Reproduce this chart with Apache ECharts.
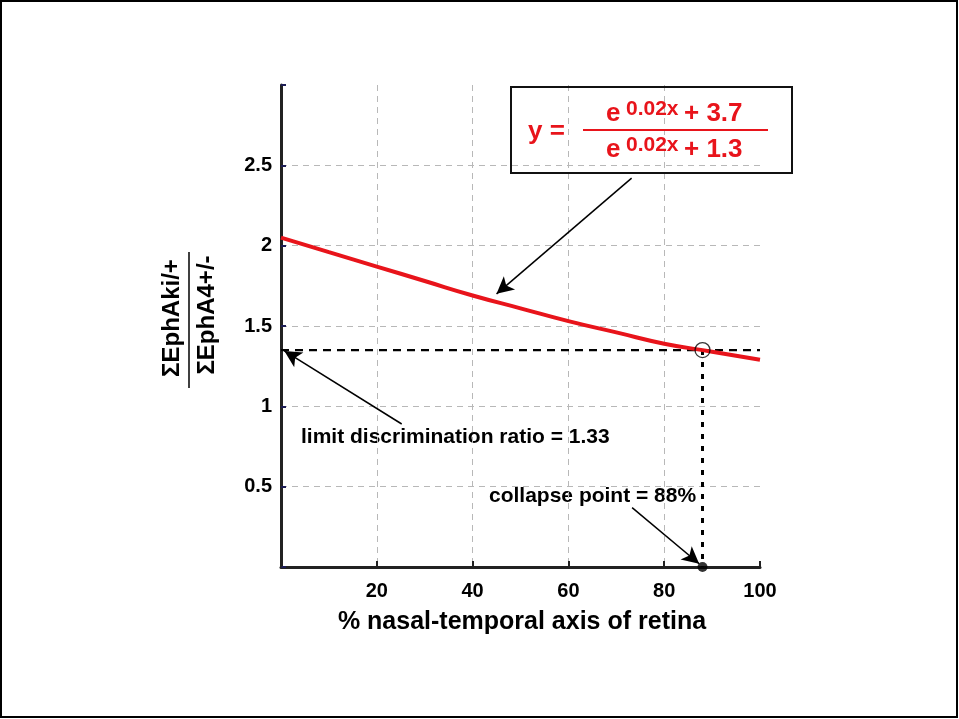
<!DOCTYPE html>
<html>
<head>
<meta charset="utf-8">
<script src="https://cdn.jsdelivr.net/npm/echarts@6/dist/echarts.min.js"></script>
<style>
html,body{margin:0;padding:0;background:#fff;}
#chart{width:959px;height:719px;}
</style>
</head>
<body>
<div id="chart"></div>
<script>
// ---- data ----
const xValues = [0, 10, 20, 30, 40, 50, 60, 70, 80, 90, 100];
const ratioValues = [2.05, 1.96, 1.87, 1.78, 1.69, 1.61, 1.53, 1.46, 1.39, 1.34, 1.29];
const xTickLabels = ['20', '40', '60', '80', '100'];
const yTickLabels = ['0.5', '1', '1.5', '2', '2.5'];
const limitRatio = 1.35;      // drawn level of the limit line
const collapseX = 88;         // collapse point (%)
const xAxisTitle = '% nasal-temporal axis of retina';
const yAxisTop = 'ΣEphAki/+';
const yAxisBottom = 'ΣEphA4+/-';
const limitText = 'limit discrimination ratio = 1.33';
const collapseText = 'collapse point = 88%';

const FONT = '"Liberation Sans", Arial, Helvetica, sans-serif';
const RED = '#e8141b';

const curve = xValues.map((x, i) => [x, ratioValues[i]]);

const chart = echarts.init(document.getElementById('chart'), null, {renderer: 'canvas'});

const arrowStyle = {color: '#000', width: 1.5, type: 'solid'};

function redText(txt, x, y, size) {
  return {type: 'text', x: x, y: y, z: 10,
    style: {text: txt, font: 'bold ' + size + 'px ' + FONT, fill: RED, align: 'left', verticalAlign: 'middle'}};
}

const option = {
  backgroundColor: '#fff',
  animation: false,
  grid: {left: 281, top: 85, width: 479, height: 482, containLabel: false},
  xAxis: {
    type: 'value', min: 0, max: 100, interval: 20,
    axisLine: {show: true, onZero: false, lineStyle: {color: '#222', width: 3}},
    axisTick: {show: true, inside: true, length: 6, lineStyle: {color: '#222', width: 2}},
    axisLabel: {
      margin: 14, color: '#000', fontFamily: FONT, fontWeight: 'bold', fontSize: 20,
      formatter: v => xTickLabels.includes(String(v)) ? String(v) : ''
    },
    splitLine: {show: true, showMinLine: false, showMaxLine: false,
      lineStyle: {color: '#b8b8b8', type: [6, 5], width: 1}}
  },
  yAxis: {
    type: 'value', min: 0, max: 3, interval: 0.5,
    axisLine: {show: true, onZero: false, lineStyle: {color: '#222', width: 3}},
    axisTick: {show: true, inside: true, length: 5, lineStyle: {color: '#1c1c55', width: 2}},
    axisLabel: {
      margin: 9, color: '#000', fontFamily: FONT, fontWeight: 'bold', fontSize: 20,
      formatter: v => yTickLabels.includes(String(v)) ? String(v) : ''
    },
    splitLine: {show: true, showMinLine: false, showMaxLine: false,
      lineStyle: {color: '#b8b8b8', type: [6, 5], width: 1}}
  },
  series: [
    {
      type: 'line', data: [[0, limitRatio], [100, limitRatio]],
      symbol: 'none', silent: true, z: 3,
      lineStyle: {color: '#000', width: 2.2, type: [8, 6]}
    },
    {
      type: 'line', data: [[collapseX, limitRatio], [collapseX, 0]],
      symbol: 'none', silent: true, z: 3,
      lineStyle: {color: '#000', width: 3, type: [5, 7]}
    },
    {
      type: 'line', data: curve, symbol: 'none', smooth: true, z: 4,
      lineStyle: {color: RED, width: 4},
      markLine: {
        silent: true, symbol: ['none', 'arrow'], symbolSize: [13, 17],
        label: {show: false}, lineStyle: arrowStyle,
        data: [
          [{coord: [73.2, 2.42]}, {coord: [45.0, 1.70]}],
          [{coord: [25.2, 0.89]}, {coord: [0.7, 1.345]}],
          [{coord: [73.3, 0.37]}, {coord: [87.3, 0.02]}]
        ]
      }
    },
    {
      type: 'scatter', data: [[collapseX, limitRatio]], symbol: 'circle', symbolSize: 15,
      itemStyle: {color: 'rgba(0,0,0,0)', borderColor: '#000', borderWidth: 1.3}, z: 6, silent: true
    },
    {
      type: 'scatter', data: [[collapseX, 0]], symbol: 'circle', symbolSize: 10, clip: false,
      itemStyle: {color: '#000'}, z: 7, silent: true
    }
  ],
  graphic: [
    // page frame
    {type: 'rect', shape: {x: 1, y: 1, width: 956, height: 716}, style: {fill: 'none', stroke: '#000', lineWidth: 2}, z: 100},
    // x axis title
    {type: 'text', x: 522, y: 622, style: {text: xAxisTitle, font: 'bold 25px ' + FONT, fill: '#000', align: 'center', verticalAlign: 'middle'}},
    // y axis title (fraction, rotated)
    {type: 'text', x: 172, y: 318, rotation: Math.PI / 2, style: {text: yAxisTop, font: 'bold 24px ' + FONT, fill: '#000', align: 'center', verticalAlign: 'middle'}},
    {type: 'text', x: 207, y: 315, rotation: Math.PI / 2, style: {text: yAxisBottom, font: 'bold 24px ' + FONT, fill: '#000', align: 'center', verticalAlign: 'middle'}},
    {type: 'line', shape: {x1: 189, y1: 252, x2: 189, y2: 388}, style: {stroke: '#000', lineWidth: 1.5}},
    // annotations
    {type: 'text', x: 301, y: 437, style: {text: limitText, font: 'bold 21px ' + FONT, fill: '#000', align: 'left', verticalAlign: 'middle'}},
    {type: 'text', x: 489, y: 496, style: {text: collapseText, font: 'bold 21px ' + FONT, fill: '#000', align: 'left', verticalAlign: 'middle'}},
    // formula box
    {type: 'rect', shape: {x: 511, y: 87, width: 281, height: 86}, style: {fill: 'none', stroke: '#111', lineWidth: 2}, z: 10},
    redText('y =', 528, 132, 26),
    {type: 'line', shape: {x1: 583, y1: 130, x2: 768, y2: 130}, style: {stroke: RED, lineWidth: 2}, z: 10},
    redText('e', 606, 114, 26),
    redText('0.02x', 626, 109, 21),
    redText('+ 3.7', 684, 114, 26),
    redText('e', 606, 150, 26),
    redText('0.02x', 626, 145, 21),
    redText('+ 1.3', 684, 150, 26)
  ]
};
chart.setOption(option);
</script>
</body>
</html>
